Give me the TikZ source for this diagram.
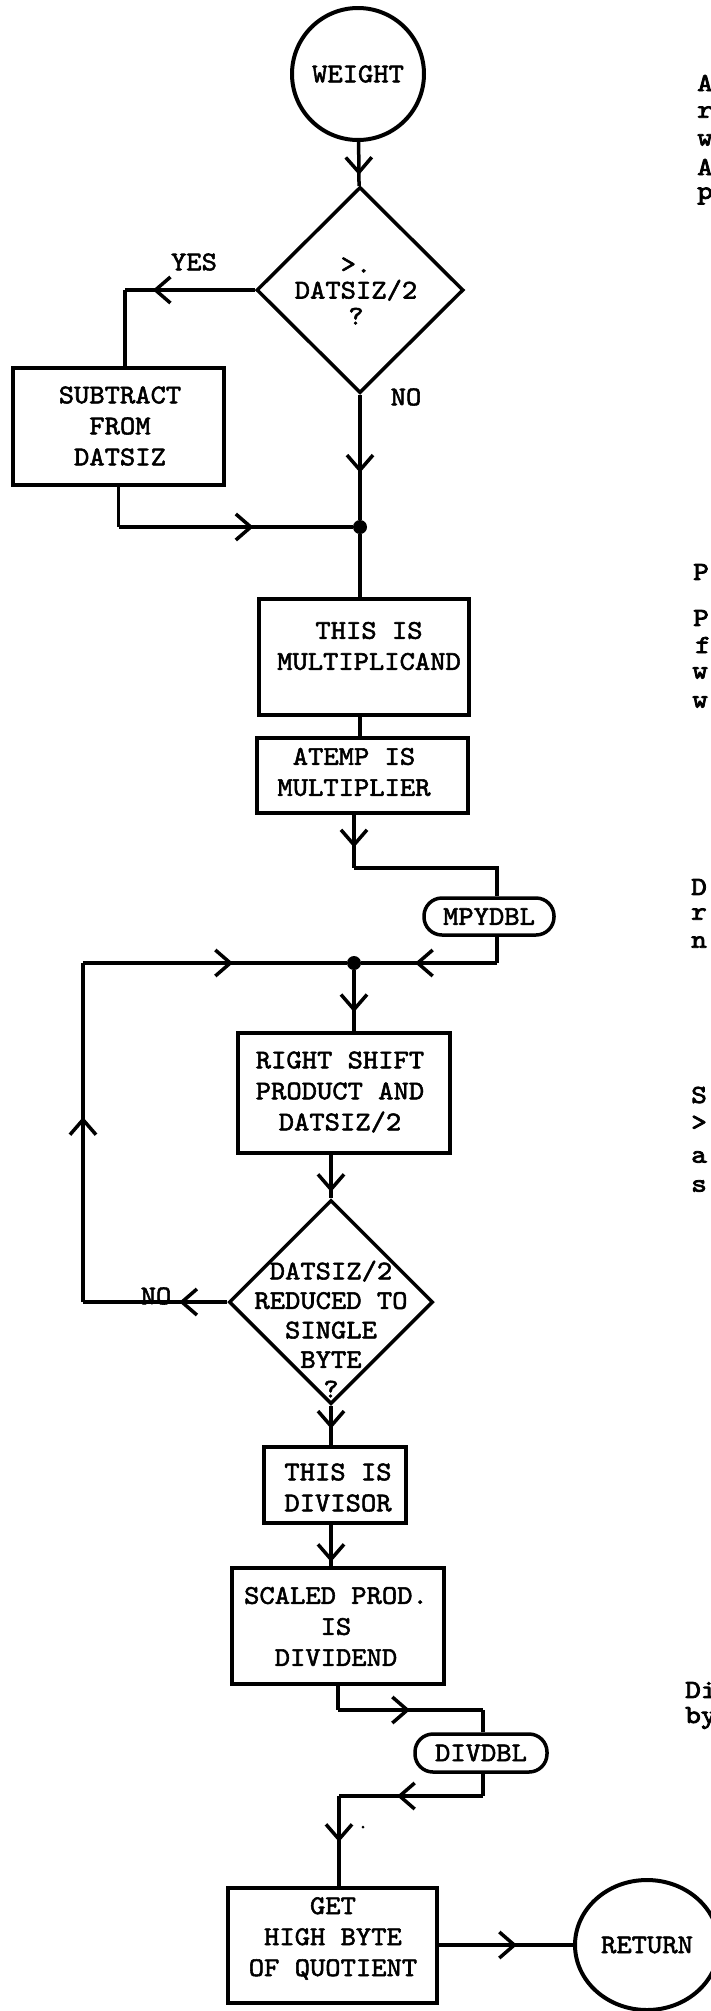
\documentclass[tikz,border=0pt]{standalone}
\usepackage{fontspec}
\newfontfamily\tw{lmmono10-regular.otf}[FakeStretch=1.08,FakeBold=2]
\newfontfamily\twm{lmmono10-regular.otf}[FakeStretch=1.15,FakeBold=3]
\usetikzlibrary{shapes.geometric,decorations.markings,arrows.meta}

\begin{document}
\begin{tikzpicture}[x=1pt,y=-1pt,
  every node/.style={font=\tw\fontsize{27}{31}\selectfont},
  box/.style={draw,rectangle,line width=4pt,inner sep=0pt},
  stadium/.style={draw,rectangle,rounded corners=18pt,line width=3.5pt,inner sep=0pt},
  term/.style={draw,ellipse,line width=4pt,inner sep=0pt},
  decision/.style={draw,diamond,line width=3.5pt,inner sep=0pt},
  txt/.style={align=center,inner sep=0pt},
  margin/.style={inner sep=0pt,anchor=west,font=\twm\fontsize{26}{30}\selectfont},
  joint/.style={circle,fill=black,inner sep=0pt,minimum size=14pt},
  conn/.style={line width=3.5pt},
  tipat/.style={postaction={decorate,decoration={markings,
      mark=at position #1 with {\arrow{Straight Barb[length=15pt,width=26pt]}}}}}]

\path[use as bounding box,fill=white] (0,0) rectangle (711,2011);

% ---- shapes ----
\node[term,minimum width=132pt,minimum height=132pt] (weight) at (358,74) {WEIGHT};
\node[decision,minimum width=207pt,minimum height=206pt] (d1) at (360,290) {};
\node[txt] (d1t) at (356,291) {>.\\[-5pt]DATSIZ/2\\[-5pt]?};
\node[txt] (yes) at (194,262) {YES};
\node[txt] (no1) at (406,397) {NO};

\node[box,minimum width=211pt,minimum height=117pt] (sub) at (118.5,426.5) {};
\node[txt] (subt) at (120,426) {SUBTRACT\\FROM\\DATSIZ};

\node[joint] (dot1) at (360,527) {};

\node[box,minimum width=210pt,minimum height=116pt] (mcand) at (364,657) {};
\node[txt] (mcandt) at (369,646) {THIS IS\\MULTIPLICAND};

\node[box,minimum width=211pt,minimum height=75pt] (atemp) at (362,775) {};
\node[txt] (atempt) at (354,772) {ATEMP IS\\MULTIPLIER};

\node[stadium,minimum width=130pt,minimum height=37pt] (mpy) at (489,916.5) {MPYDBL};

\node[joint] (dot2) at (354,963) {};

\node[box,minimum width=212pt,minimum height=120pt] (rshift) at (344,1093) {};
\node[txt] (rshiftt) at (340,1092) {RIGHT SHIFT\\PRODUCT AND\\DATSIZ/2};

\node[decision,minimum width=204pt,minimum height=204pt] (d2) at (331,1302) {};
\node[txt] (d2t) at (331,1329) {DATSIZ/2\\[-1.5pt]REDUCED TO\\[-1.5pt]SINGLE\\[-1.5pt]BYTE\\[-1.5pt]?};
\node[txt] (no2) at (156,1296) {NO};

\node[box,minimum width=142pt,minimum height=76pt] (div) at (335,1485) {};
\node[txt] (divt) at (338,1487.5) {THIS IS\\DIVISOR};

\node[box,minimum width=212pt,minimum height=116pt] (scaled) at (338,1626) {};
\node[txt] (scaledt) at (336,1626.5) {SCALED PROD.\\IS\\DIVIDEND};

\node[stadium,minimum width=132pt,minimum height=38pt] (divdbl) at (481,1753) {DIVDBL};

\node[box,minimum width=209pt,minimum height=115pt] (get) at (332.5,1945) {};
\node[txt] (gett) at (333,1938.5) {GET\\HIGH BYTE\\OF QUOTIENT};

\node[term,minimum width=144pt,minimum height=130pt] (ret) at (647,1945) {RETURN};

% ---- junction points ----
\coordinate (cyes) at (125,290);
\coordinate (j1) at (sub.south |- dot1);
\coordinate (k1) at (354,868);
\coordinate (k2) at (497,868);
\coordinate (k3) at (497,963);
\coordinate (k4) at (83,963);
\coordinate (k5) at (83,1302);
\coordinate (m1) at (338,1710);
\coordinate (m2) at (483,1710);
\coordinate (m3) at (483,1796);
\coordinate (m4) at (339,1796);

% ---- connectors ----
\draw[conn,tipat=33pt] (weight) -- (d1);
\draw[conn,tipat=102pt] (d1.west) -- (cyes);
\draw[conn] (cyes) -- (cyes |- sub.north);
\draw[conn] (sub.south) -- (j1);
\draw[conn,tipat=135pt] (j1) -- (dot1);
\draw[conn,tipat=78pt] (d1.south) -- (dot1);
\draw[conn] (dot1) -- (dot1 |- mcand.north);
\draw[conn] (dot1 |- mcand.south) -- (dot1 |- atemp.north);
\draw[conn,tipat=33pt] (k1 |- atemp.south) -- (k1);
\draw[conn] (k1) -- (k2) -- (k2 |- mpy.north);
\draw[conn] (k2 |- mpy.south) -- (k3);
\draw[conn,tipat=82pt] (k3) -- (dot2);
\draw[conn,tipat=150pt] (k4) -- (dot2);
\draw[conn,tipat=185pt] (k5) -- (k4);
\draw[conn,tipat=48pt] (d2.west) -- (k5);
\draw[conn,tipat=42pt] (dot2) -- (dot2 |- rshift.north);
\draw[conn,tipat=37pt] (d2.north |- rshift.south) -- (d2.north);
\draw[conn,tipat=23pt] (d2.south) -- (d2.south |- div.north);
\draw[conn,tipat=37pt] (d2.south |- div.south) -- (d2.south |- scaled.north);
\draw[conn] (m1 |- scaled.south) -- (m1);
\draw[conn,tipat=72pt] (m1) -- (m2);
\draw[conn] (m2) -- (m2 |- divdbl.north);
\draw[conn] (m3 |- divdbl.south) -- (m3);
\draw[conn,tipat=86pt] (m3) -- (m4);
\draw[conn,tipat=46pt] (m4) -- (m4 |- get.north);
\draw[conn,tipat=78pt] (get.east) -- (ret.west);
\fill (363,1827) circle (1.5);

% ---- margin text running off the right edge ----
\node[margin] (ra1) at (697,83) {A};
\node[margin] (ra2) at (697,112) {r};
\node[margin] (ra3) at (697,140) {w};
\node[margin] (ra4) at (697,167) {A};
\node[margin] (ra5) at (697,196) {p};
\node[margin] (rb1) at (693,572) {P};
\node[margin] (rb2) at (693,618) {P};
\node[margin] (rb3) at (695,645) {f};
\node[margin] (rb4) at (692,673) {w};
\node[margin] (rb5) at (692,702) {w};
\node[margin] (rc1) at (691,887) {D};
\node[margin] (rc2) at (691,914) {r};
\node[margin] (rc3) at (691,942) {n};
\node[margin] (rd1) at (691,1095) {S};
\node[margin] (rd2) at (691,1123) {>};
\node[margin] (rd3) at (691,1157) {a};
\node[margin] (rd4) at (691,1186) {s};
\node[margin] (re1) at (685,1690) {Di};
\node[margin] (re2) at (685,1718) {by};
\end{tikzpicture}
\end{document}
